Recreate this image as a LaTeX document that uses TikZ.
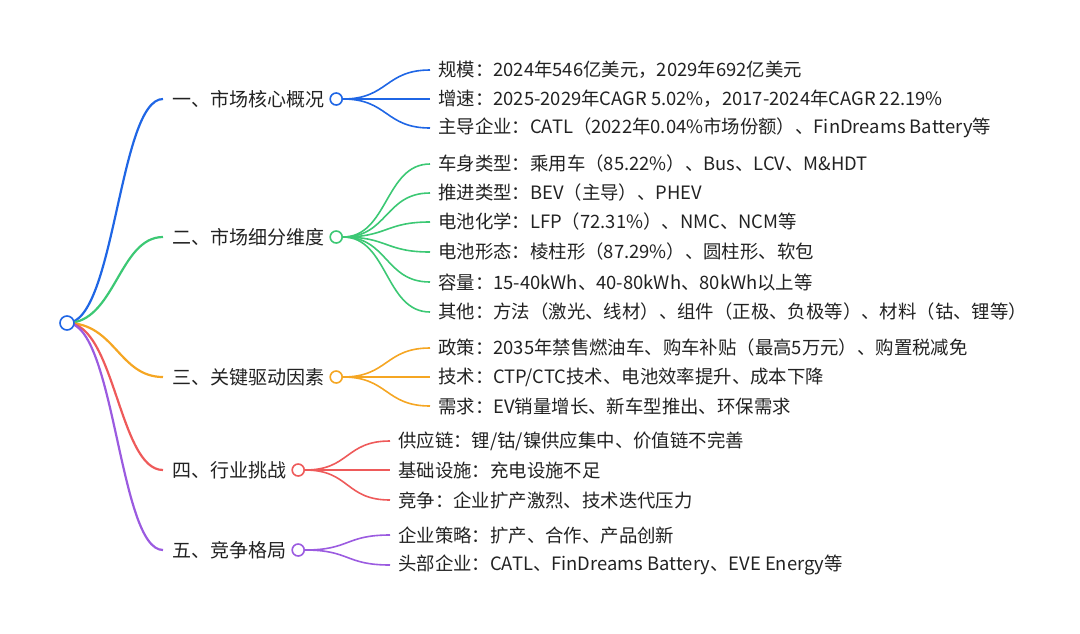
\documentclass[tikz,border=0pt]{standalone}
\usepackage{fontspec}
\setmainfont{Noto Sans CJK SC}
\usetikzlibrary{positioning}
\definecolor{mblue}{HTML}{1F66E5}
\definecolor{mgreen}{HTML}{3CC874}
\definecolor{morange}{HTML}{F5A623}
\definecolor{mred}{HTML}{EE5A5A}
\definecolor{mpurple}{HTML}{9B5BE0}
\definecolor{txt}{HTML}{222222}
\tikzset{
  dot/.style={circle, draw=#1, fill=white, line width=1.6pt, minimum size=12pt, inner sep=0pt},
  br/.style={anchor=west, inner sep=0pt, text=txt, font=\fontsize{19}{22}\selectfont},
  lf/.style={anchor=west, inner sep=0pt, text=txt, font=\fontsize{18.4}{22}\selectfont},
  trunk/.style={draw=#1, line width=2.2pt},
  twig/.style={draw=#1, line width=1.6pt},
}
\begin{document}
\begin{tikzpicture}[x=1pt, y=-1pt]
  \useasboundingbox (0,0) rectangle (1080,633);
  % 一级分支
  \node[br] (b1) at (172,99)  {一、市场核心概况};
  \node[br] (b2) at (172,237) {二、市场细分维度};
  \node[br] (b3) at (172,377) {三、关键驱动因素};
  \node[br] (b4) at (172,470) {四、行业挑战};
  \node[br] (b5) at (172,550) {五、竞争格局};
  \node[dot=mblue,   right=5pt of b1] (d1) {};
  \node[dot=mgreen,  right=5pt of b2] (d2) {};
  \node[dot=morange, right=5pt of b3] (d3) {};
  \node[dot=mred,    right=5pt of b4] (d4) {};
  \node[dot=mpurple, right=5pt of b5] (d5) {};
  % 根到分支
  \draw[trunk=mblue]   (67,323) .. controls +(48,0) and +(-44,0) .. ([xshift=-9pt]b1.west);
  \draw[trunk=mgreen]  (67,323) .. controls +(48,0) and +(-44,0) .. ([xshift=-9pt]b2.west);
  \draw[trunk=morange] (67,323) .. controls +(48,0) and +(-44,0) .. ([xshift=-9pt]b3.west);
  \draw[trunk=mred]    (67,323) .. controls +(48,0) and +(-44,0) .. ([xshift=-9pt]b4.west);
  \draw[trunk=mpurple] (67,323) .. controls +(48,0) and +(-44,0) .. ([xshift=-9pt]b5.west);
  \node[dot=mblue, minimum size=14pt] (root) at (67,323) {};
  % 市场核心概况
  \node[lf] (l11) at (438,70)  {规模：2024年546亿美元，2029年692亿美元};
  \node[lf] (l12) at (438,99)  {增速：2025-2029年CAGR 5.02\%，2017-2024年CAGR 22.19\%};
  \node[lf] (l13) at (438,128) {主导企业：CATL（2022年0.04\%市场份额）、FinDreams Battery等};
  \draw[twig=mblue] (d1.east) .. controls +(45,0) and +(-45,0) .. ([xshift=-8pt]l11.west);
  \draw[twig=mblue] (d1.east) .. controls +(45,0) and +(-45,0) .. ([xshift=-8pt]l12.west);
  \draw[twig=mblue] (d1.east) .. controls +(45,0) and +(-45,0) .. ([xshift=-8pt]l13.west);
  % 市场细分维度
  \node[lf] (l21) at (438,164) {车身类型：乘用车（85.22\%）、Bus、LCV、M\&HDT};
  \node[lf] (l22) at (438,193) {推进类型：BEV（主导）、PHEV};
  \node[lf] (l23) at (438,222) {电池化学：LFP（72.31\%）、NMC、NCM等};
  \node[lf] (l24) at (438,252) {电池形态：棱柱形（87.29\%）、圆柱形、软包};
  \node[lf] (l25) at (438,282) {容量：15-40kWh、40-80kWh、80kWh以上等};
  \node[lf] (l26) at (438,312) {其他：方法（激光、线材）、组件（正极、负极等）、材料（钴、锂等）};
  \draw[twig=mgreen] (d2.east) .. controls +(45,0) and +(-45,0) .. ([xshift=-8pt]l21.west);
  \draw[twig=mgreen] (d2.east) .. controls +(45,0) and +(-45,0) .. ([xshift=-8pt]l22.west);
  \draw[twig=mgreen] (d2.east) .. controls +(45,0) and +(-45,0) .. ([xshift=-8pt]l23.west);
  \draw[twig=mgreen] (d2.east) .. controls +(45,0) and +(-45,0) .. ([xshift=-8pt]l24.west);
  \draw[twig=mgreen] (d2.east) .. controls +(45,0) and +(-45,0) .. ([xshift=-8pt]l25.west);
  \draw[twig=mgreen] (d2.east) .. controls +(45,0) and +(-45,0) .. ([xshift=-8pt]l26.west);
  % 关键驱动因素
  \node[lf] (l31) at (438,348) {政策：2035年禁售燃油车、购车补贴（最高5万元）、购置税减免};
  \node[lf] (l32) at (438,377) {技术：CTP/CTC技术、电池效率提升、成本下降};
  \node[lf] (l33) at (438,406) {需求：EV销量增长、新车型推出、环保需求};
  \draw[twig=morange] (d3.east) .. controls +(45,0) and +(-45,0) .. ([xshift=-8pt]l31.west);
  \draw[twig=morange] (d3.east) .. controls +(45,0) and +(-45,0) .. ([xshift=-8pt]l32.west);
  \draw[twig=morange] (d3.east) .. controls +(45,0) and +(-45,0) .. ([xshift=-8pt]l33.west);
  % 行业挑战
  \node[lf] (l41) at (398,441) {供应链：锂/钴/镍供应集中、价值链不完善};
  \node[lf] (l42) at (398,470) {基础设施：充电设施不足};
  \node[lf] (l43) at (398,500) {竞争：企业扩产激烈、技术迭代压力};
  \draw[twig=mred] (d4.east) .. controls +(45,0) and +(-45,0) .. ([xshift=-8pt]l41.west);
  \draw[twig=mred] (d4.east) .. controls +(45,0) and +(-45,0) .. ([xshift=-8pt]l42.west);
  \draw[twig=mred] (d4.east) .. controls +(45,0) and +(-45,0) .. ([xshift=-8pt]l43.west);
  % 竞争格局
  \node[lf] (l51) at (398,535) {企业策略：扩产、合作、产品创新};
  \node[lf] (l52) at (398,565) {头部企业：CATL、FinDreams Battery、EVE Energy等};
  \draw[twig=mpurple] (d5.east) .. controls +(45,0) and +(-45,0) .. ([xshift=-8pt]l51.west);
  \draw[twig=mpurple] (d5.east) .. controls +(45,0) and +(-45,0) .. ([xshift=-8pt]l52.west);
\end{tikzpicture}
\end{document}
